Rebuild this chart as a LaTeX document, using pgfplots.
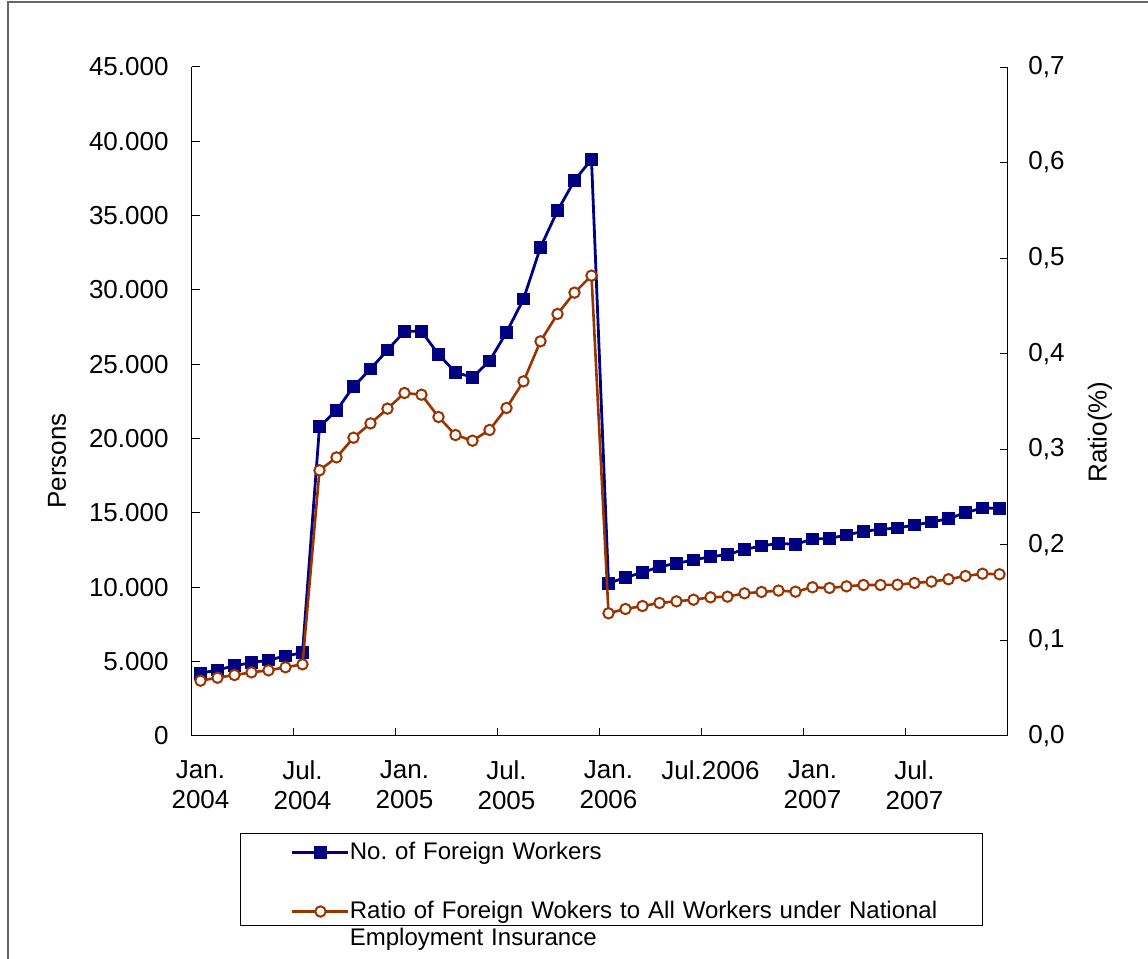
\documentclass[border=0pt]{standalone}
\usepackage{fontspec}
\setmainfont{Liberation Sans}
\usepackage{pgfplots}
\usepackage{pgfplotstable}
\pgfplotsset{compat=1.18}
\definecolor{navy}{RGB}{0,0,128}
\definecolor{rust}{RGB}{153,51,0}
\pgfplotstableread{
idx persons ratio
0 4220 0.0579
1 4440 0.0610
2 4730 0.0638
3 4930 0.0666
4 5110 0.0687
5 5380 0.0719
6 5600 0.0750
7 20800 0.2780
8 21900 0.2915
9 23500 0.3121
10 24690 0.3271
11 25960 0.3425
12 27220 0.3589
13 27220 0.3571
14 25670 0.3338
15 24460 0.3149
16 24130 0.3090
17 25220 0.3202
18 27150 0.3432
19 29390 0.3711
20 32870 0.4130
21 35330 0.4416
22 37370 0.4639
23 38790 0.4817
24 10270 0.1284
25 10670 0.1329
26 10990 0.1360
27 11390 0.1392
28 11610 0.1409
29 11840 0.1426
30 12060 0.1451
31 12200 0.1458
32 12550 0.1493
33 12780 0.1507
34 12960 0.1521
35 12890 0.1510
36 13250 0.1556
37 13290 0.1549
38 13520 0.1566
39 13770 0.1580
40 13900 0.1580
41 13990 0.1583
42 14190 0.1601
43 14390 0.1615
44 14620 0.1640
45 15020 0.1674
46 15340 0.1698
47 15310 0.1692
}\datatable
\begin{document}
\begin{tikzpicture}
\useasboundingbox (0,0) rectangle (574pt,479.5pt);
\draw[black!60, line width=0.7pt] (4pt,0) -- (4pt,478.5pt) -- (574pt,478.5pt);
\begin{axis}[
  at={(96pt,111.5pt)}, anchor=south west,
  scale only axis, width=408pt, height=334.5pt,
  xmin=-0.5, xmax=47.5, ymin=0, ymax=45000,
  axis x line*=bottom, axis y line*=left,
  axis line style={-, line width=0.5pt, black},
  tick align=inside, major tick length=4pt,
  tick style={black, line width=0.5pt},
  xtick={-0.5,5.5,11.5,17.5,23.5,29.5,35.5,41.5,47.5},
  xticklabels={{Jan.\\2004},{Jul.\\2004},{Jan.\\2005},{Jul.\\2005},{Jan.\\2006},{Jul.2006},{Jan.\\2007},{Jul.\\2007},{}},
  xticklabel style={align=center, xshift=4.25pt, yshift=-8.7pt, font=\fontsize{13}{15}\selectfont},
  ytick={0,5000,10000,15000,20000,25000,30000,35000,40000,45000},
  scaled y ticks=false,
  yticklabel style={xshift=-8.2pt, font=\fontsize{13}{15}\selectfont},
  /pgf/number format/1000 sep={.},
  /pgf/number format/assume math mode=true,
]
\addplot[navy, line width=1.4pt, mark=square*, mark size=2.5pt, mark options={solid}] table[x=idx,y=persons]{\datatable};
\end{axis}
\begin{axis}[
  at={(96pt,111.5pt)}, anchor=south west,
  scale only axis, width=408pt, height=334.5pt,
  xmin=-0.5, xmax=47.5, ymin=0, ymax=0.7,
  axis x line=none, axis y line*=right,
  axis line style={-, line width=0.5pt, black},
  tick align=inside, major tick length=4pt,
  tick style={black, line width=0.5pt},
  ytick={0,0.1,0.2,0.3,0.4,0.5,0.6,0.7},
  yticklabel style={xshift=6.7pt, font=\fontsize{13}{15}\selectfont,
    /pgf/number format/.cd, fixed, fixed zerofill, precision=1, use comma, assume math mode=true},
  legend style={at={(0.0588,-0.145)}, anchor=north west, draw=black, line width=0.5pt,
    inner xsep=0pt, inner ysep=0pt, row sep=15pt, column sep=-2pt,
    font=\fontsize{12}{13.5}\selectfont,
    cells={anchor=base west, align=left, text width=314.5pt, inner sep=0pt}},
  legend image code/.code={\path[draw=none] (-26pt,3.5pt) -- (0pt,3.5pt);
    \draw[mark repeat=2,mark phase=2,#1] plot coordinates {(0pt,3.5pt)(14pt,3.5pt)(28pt,3.5pt)};},
]
\addlegendimage{navy, line width=1.4pt, mark=square*, mark size=2.5pt, mark options={solid}}
\addlegendentry{\rule[-3pt]{0pt}{14pt}No.\ of Foreign Workers}
\addplot[rust, line width=1.3pt, mark=*, mark size=2.6pt, mark options={solid, fill=white, draw=rust, line width=1pt}] table[x=idx,y=ratio]{\datatable};
\addlegendentry{\rule{0pt}{9pt}Ratio of Foreign Wokers to All Workers under National\\Employment Insurance\rule[-4pt]{0pt}{0pt}}
\end{axis}
\node[rotate=90, font=\fontsize{13}{15}\selectfont] at (28.5pt,249pt) {Persons};
\node[rotate=90, font=\fontsize{13}{15}\selectfont] at (550pt,263.5pt) {Ratio(\%)};
\end{tikzpicture}
\end{document}
